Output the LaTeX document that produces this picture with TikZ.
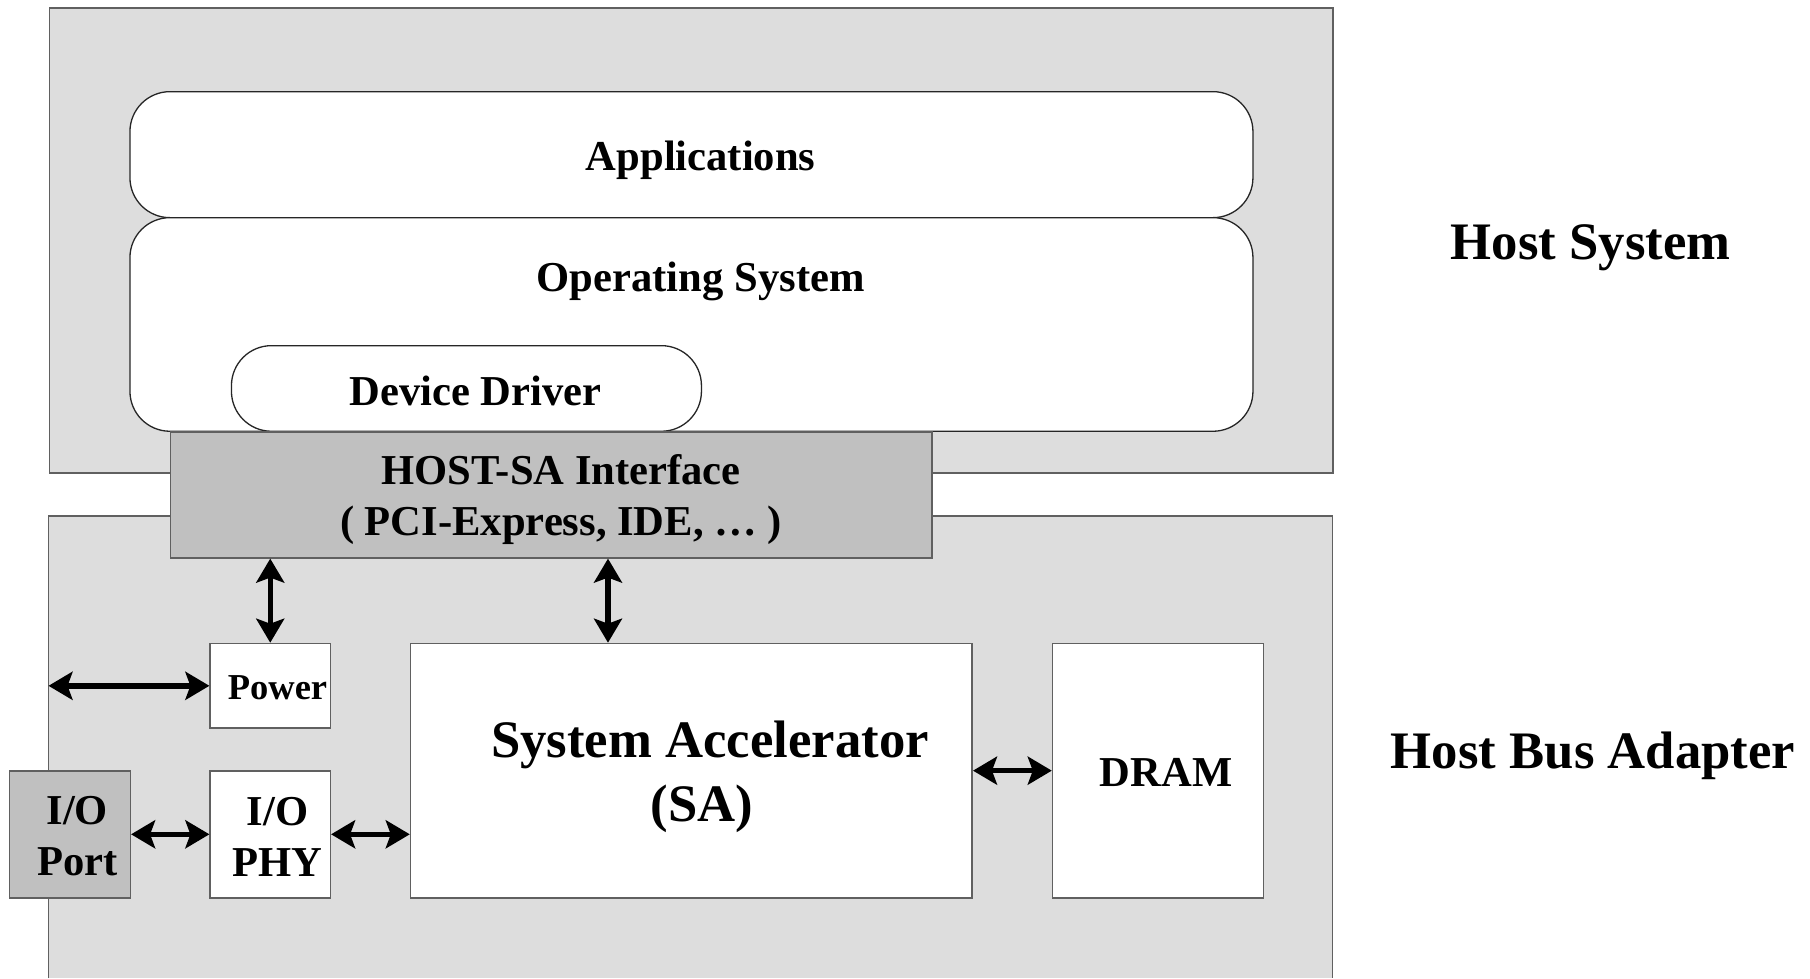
\documentclass[tikz,border=0pt]{standalone}
\usepackage{fontspec}
\setmainfont{Liberation Serif}
\usetikzlibrary{arrows.meta}
\definecolor{bgray}{HTML}{DDDDDD}
\definecolor{midgray}{HTML}{C0C0C0}
\definecolor{edge}{HTML}{606060}
\begin{document}
\begin{tikzpicture}[x=1pt,y=-1pt,
  outer/.style={fill=bgray, draw=edge, line width=1.6pt, inner sep=0, anchor=north west},
  layer/.style={draw=black!85, fill=white, line width=1.3pt, rounded corners=40pt, inner sep=0, anchor=north west},
  blk/.style={draw=edge, fill=white, line width=1.6pt, inner sep=0, anchor=north west},
  dark/.style={draw=edge, fill=midgray, line width=1.6pt, inner sep=0, anchor=north west},
  lbl/.style={font=\bfseries\fontsize{42.6}{51}\selectfont, align=center, inner sep=0},
  big/.style={font=\bfseries\fontsize{52.7}{63.5}\selectfont, align=center, inner sep=0},
  small/.style={font=\bfseries\fontsize{36.5}{44}\selectfont, align=center, inner sep=0},
  link/.style={line width=5.5pt, {Stealth[length=24pt,width=28pt,inset=5pt]}-{Stealth[length=24pt,width=28pt,inset=5pt]}}]
\useasboundingbox (0,0) rectangle (1810,978);
\fill[white] (0,0) rectangle (1810,978);
% outer regions
\node[outer, minimum width=1283.5pt, minimum height=465pt] (host) at (48.5,7) {};
\node[fill=bgray, inner sep=0, anchor=north west, minimum width=1283.5pt, minimum height=462pt] (hba) at (48.5,516) {};
\draw[draw=edge, line width=1.6pt] (hba.south west) -- (hba.north west) -- (hba.north east) -- (hba.south east);
% software layers
\node[layer, minimum width=1123pt, minimum height=126pt] (apps) at (129.3,91) {};
\node[layer, minimum width=1123pt, minimum height=213.6pt] (os) at (129.3,217) {};
\node[layer, rounded corners=40pt, minimum width=470pt, minimum height=85.6pt] (dd) at (230.8,345) {};
\node[lbl] (appsT) at (700.7,160.5) {Applications};
\node[lbl] (osT) at (700.7,281) {Operating System};
\node[lbl] (ddT) at (475.6,390.5) {Device Driver};
% interface
\node[dark, minimum width=761.6pt, minimum height=126pt] (hostsa) at (169.6,431) {};
\node[lbl] (hostsaT) at (561,499.5) {HOST-SA Interface\\( PCI-Express, IDE, \ldots\ )};
% hardware blocks
\node[blk, minimum width=120.1pt, minimum height=84.6pt] (power) at (209.4,642.7) {};
\node[small] (powerT) at (277.5,688) {Power};
\node[dark, minimum width=121pt, minimum height=127pt] (ioport) at (8.5,770) {};
\node[lbl] (ioportT) at (77.3,836.5) {I/O\\Port};
\node[blk, minimum width=120.1pt, minimum height=127pt] (iophy) at (209.4,770) {};
\node[lbl] (iophyT) at (277.5,836.5) {I/O\\PHY};
\node[blk, minimum width=561.6pt, minimum height=254.3pt] (sa) at (409.8,642.7) {};
\node[big, anchor=north] (saT1) at (710,720.5) {System Accelerator};
\node[big, anchor=north] (saT2) at (701.8,784.5) {(SA)};
\node[blk, minimum width=210.7pt, minimum height=254.3pt] (dram) at (1051.8,642.7) {};
\node[lbl] (dramT) at (1166,772.5) {DRAM};
% side labels
\node[big] (hostT) at (1590.7,247.5) {Host System};
\node[big] (hbaT) at (1593,755.5) {Host Bus Adapter};
% connectors
\coordinate (saTop) at (608,642.7);
\draw[link] (power.north |- hostsa.south) -- (power.north);
\draw[link] (saTop |- hostsa.south) -- (saTop);
\draw[link] (hba.west |- power.west) -- (power.west);
\draw[link] (ioport.east) -- (iophy.west);
\draw[link] (iophy.east) -- (sa.west |- iophy.east);
\draw[link] (sa.east |- dram.west) -- (dram.west);
\end{tikzpicture}
\end{document}
